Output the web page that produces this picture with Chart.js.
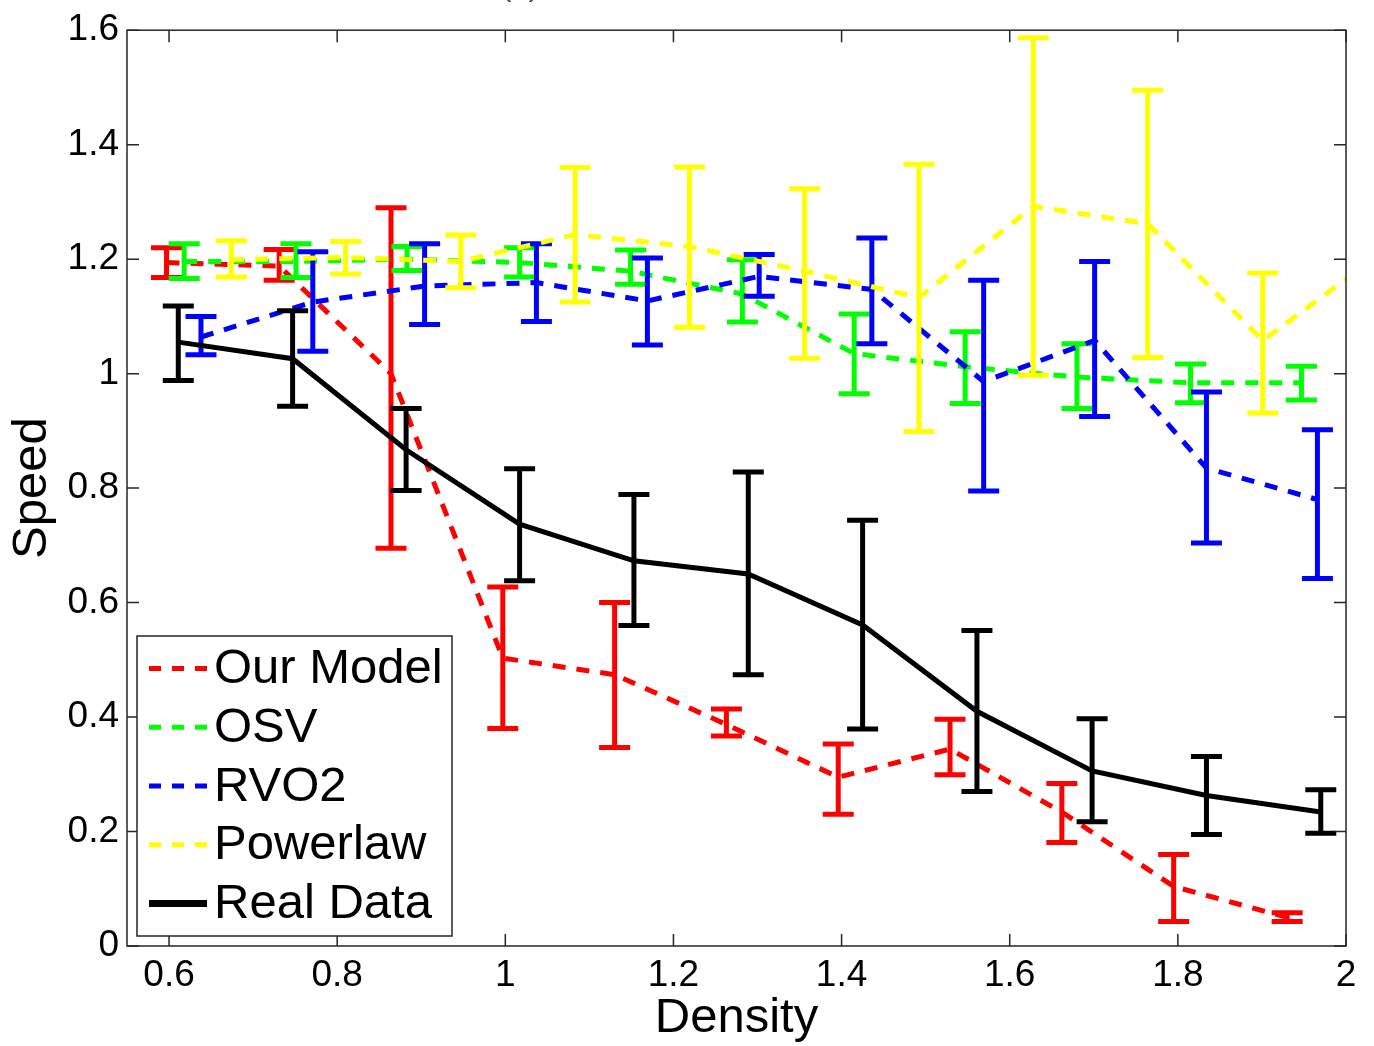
<!DOCTYPE html>
<html>
<head>
<meta charset="utf-8">
<script src="https://cdn.jsdelivr.net/npm/chart.js@4/dist/chart.umd.min.js"></script>
<style>
html,body{margin:0;padding:0;background:#fff;overflow:hidden}
canvas{display:block}
</style>
</head>
<body>
<canvas id="c" width="1374" height="1046"></canvas>
<script>
// ---------- data ----------
const seriesLabels = ['Our Model', 'OSV', 'RVO2', 'Powerlaw', 'Real Data'];
const xTicks = [0.6, 0.8, 1.0, 1.2, 1.4, 1.6, 1.8, 2.0];
const yTicks = [0, 0.2, 0.4, 0.6, 0.8, 1.0, 1.2, 1.4, 1.6];
const panelTitle = '(c)';
const xAxisTitle = 'Density';
const yAxisTitle = 'Speed';

const xOurModel  = [0.597, 0.731, 0.864, 0.997, 1.130, 1.263, 1.396, 1.529, 1.662, 1.795, 1.930];
const yOurModel  = [1.194, 1.188, 1.000, 0.503, 0.474, 0.387, 0.295, 0.344, 0.234, 0.104, 0.050];
const loOurModel = [1.168, 1.163, 0.695, 0.380, 0.347, 0.367, 0.230, 0.299, 0.181, 0.043, 0.043];
const hiOurModel = [1.220, 1.217, 1.290, 0.627, 0.600, 0.414, 0.353, 0.396, 0.284, 0.160, 0.058];

const xOSV  = [0.618, 0.751, 0.883, 1.017, 1.149, 1.282, 1.415, 1.547, 1.680, 1.815, 1.947];
const yOSV  = [1.196, 1.196, 1.200, 1.194, 1.179, 1.139, 1.035, 1.012, 0.994, 0.984, 0.984];
const loOSV = [1.166, 1.168, 1.180, 1.169, 1.156, 1.090, 0.965, 0.948, 0.939, 0.949, 0.954];
const hiOSV = [1.227, 1.227, 1.222, 1.220, 1.216, 1.199, 1.104, 1.073, 1.052, 1.017, 1.013];

const xRVO2  = [0.638, 0.771, 0.904, 1.037, 1.169, 1.302, 1.436, 1.569, 1.701, 1.834, 1.966];
const yRVO2  = [1.064, 1.125, 1.153, 1.159, 1.127, 1.170, 1.147, 0.986, 1.058, 0.835, 0.780];
const loRVO2 = [1.033, 1.039, 1.086, 1.091, 1.050, 1.135, 1.052, 0.795, 0.925, 0.704, 0.642];
const hiRVO2 = [1.100, 1.213, 1.227, 1.227, 1.202, 1.208, 1.237, 1.163, 1.196, 0.968, 0.902];

const xPowerlaw  = [0.674, 0.810, 0.947, 1.083, 1.219, 1.356, 1.492, 1.628, 1.764, 1.901, 2.037];
const yPowerlaw  = [1.199, 1.203, 1.196, 1.243, 1.222, 1.179, 1.133, 1.292, 1.262, 1.058, 1.205];
const loPowerlaw = [1.169, 1.174, 1.150, 1.125, 1.081, 1.027, 0.899, 0.997, 1.028, 0.931, null];
const hiPowerlaw = [1.232, 1.231, 1.242, 1.360, 1.361, 1.323, 1.366, 1.587, 1.495, 1.176, null];

const xReal  = [0.611, 0.747, 0.882, 1.017, 1.153, 1.289, 1.425, 1.561, 1.698, 1.834, 1.970];
const yReal  = [1.055, 1.026, 0.867, 0.737, 0.673, 0.650, 0.561, 0.410, 0.306, 0.263, 0.234];
const loReal = [0.988, 0.943, 0.796, 0.638, 0.560, 0.474, 0.379, 0.270, 0.217, 0.195, 0.197];
const hiReal = [1.118, 1.110, 0.939, 0.834, 0.789, 0.828, 0.744, 0.551, 0.397, 0.331, 0.273];

// ---------- styles ----------
const FONT = '"Liberation Sans", Arial, Helvetica, sans-serif';
const DASH = [13, 11];
const AXIS_COLOR = '#262626';

const toPts = (xs, ys) => xs.map((x, i) => ({x: x, y: ys[i]}));

function makeSeries(label, xs, ys, lo, hi, color, dashed, order) {
  return {
    label: label,
    data: toPts(xs, ys),
    errLow: lo,
    errHigh: hi,
    borderColor: color,
    backgroundColor: color,
    borderWidth: 5,
    borderDash: dashed ? DASH : [],
    borderCapStyle: 'butt',
    pointRadius: 0,
    pointHoverRadius: 0,
    tension: 0,
    fill: false,
    order: order
  };
}

const datasets = [
  makeSeries(seriesLabels[0], xOurModel, yOurModel, loOurModel, hiOurModel, '#ff0000', true, 5),
  makeSeries(seriesLabels[1], xOSV, yOSV, loOSV, hiOSV, '#00ff00', true, 4),
  makeSeries(seriesLabels[2], xRVO2, yRVO2, loRVO2, hiRVO2, '#0000ff', true, 3),
  makeSeries(seriesLabels[3], xPowerlaw, yPowerlaw, loPowerlaw, hiPowerlaw, '#ffff00', true, 2),
  makeSeries(seriesLabels[4], xReal, yReal, loReal, hiReal, '#000000', false, 1)
];

// ---------- plugins ----------
const errorBarPlugin = {
  id: 'errorBars',
  afterDatasetDraw(chart, args) {
    const ds = chart.data.datasets[args.index];
    if (!ds.errLow) return;
    const ctx = chart.ctx, a = chart.chartArea, xs = chart.scales.x, ys = chart.scales.y;
    ctx.save();
    ctx.beginPath();
    ctx.rect(a.left, a.top, a.right - a.left, a.bottom - a.top);
    ctx.clip();
    ctx.strokeStyle = ds.borderColor;
    ctx.lineCap = 'butt';
    ctx.setLineDash([]);
    ctx.lineWidth = 5;
    const half = 15.5;
    ds.data.forEach((p, i) => {
      const lo = ds.errLow[i], hi = ds.errHigh[i];
      if (lo == null || hi == null) return;
      const px = xs.getPixelForValue(p.x);
      const pl = ys.getPixelForValue(lo);
      const ph = ys.getPixelForValue(hi);
      ctx.beginPath();
      ctx.moveTo(px, pl); ctx.lineTo(px, ph);
      ctx.moveTo(px - half, pl); ctx.lineTo(px + half, pl);
      ctx.moveTo(px - half, ph); ctx.lineTo(px + half, ph);
      ctx.stroke();
    });
    ctx.restore();
  }
};

const framePlugin = {
  id: 'frame',
  afterDatasetsDraw(chart) {
    const ctx = chart.ctx, a = chart.chartArea, xs = chart.scales.x, ys = chart.scales.y;
    const tl = 12;
    ctx.save();
    ctx.strokeStyle = AXIS_COLOR;
    ctx.lineWidth = 1.5;
    ctx.setLineDash([]);
    ctx.strokeRect(a.left, a.top, a.right - a.left, a.bottom - a.top);
    ctx.beginPath();
    xTicks.forEach(v => {
      const px = xs.getPixelForValue(v);
      ctx.moveTo(px, a.bottom); ctx.lineTo(px, a.bottom - tl);
      ctx.moveTo(px, a.top); ctx.lineTo(px, a.top + tl);
    });
    yTicks.forEach(v => {
      const py = ys.getPixelForValue(v);
      ctx.moveTo(a.left, py); ctx.lineTo(a.left + tl, py);
      ctx.moveTo(a.right, py); ctx.lineTo(a.right - tl, py);
    });
    ctx.stroke();
    ctx.restore();
  }
};

const boxLegendPlugin = {
  id: 'boxLegend',
  afterDraw(chart) {
    const ctx = chart.ctx;
    const L = 137, T = 636, W = 315, H = 300;
    ctx.save();
    ctx.fillStyle = '#ffffff';
    ctx.fillRect(L, T, W, H);
    ctx.strokeStyle = AXIS_COLOR;
    ctx.lineWidth = 1.5;
    ctx.setLineDash([]);
    ctx.strokeRect(L, T, W, H);
    ctx.font = '49px ' + FONT;
    ctx.textBaseline = 'middle';
    ctx.textAlign = 'left';
    chart.data.datasets.forEach((ds, i) => {
      const cy = T + 32.5 + i * 58.75;
      ctx.strokeStyle = ds.borderColor;
      ctx.lineWidth = ds.borderDash.length ? 5 : 7;
      ctx.lineCap = 'butt';
      ctx.setLineDash(ds.borderDash.length ? [12, 11] : []);
      ctx.beginPath();
      ctx.moveTo(L + 12, cy); ctx.lineTo(L + 70, cy);
      ctx.stroke();
      ctx.setLineDash([]);
      ctx.fillStyle = '#000000';
      ctx.fillText(ds.label, L + 77, cy + 1);
    });
    ctx.restore();
  }
};

const panelTitlePlugin = {
  id: 'panelTitle',
  afterDraw(chart) {
    const ctx = chart.ctx;
    ctx.save();
    ctx.fillStyle = '#555555';
    ctx.font = '34px ' + FONT;
    ctx.textAlign = 'center';
    ctx.textBaseline = 'alphabetic';
    ctx.fillText(panelTitle, 520, -5);
    ctx.restore();
  }
};

const fmt = v => String(Number(Number(v).toFixed(1)));

new Chart(document.getElementById('c'), {
  type: 'line',
  data: { datasets: datasets },
  options: {
    responsive: false,
    animation: false,
    events: [],
    layout: { padding: { top: 24, right: 28, left: 0, bottom: 0 } },
    plugins: {
      legend: { display: false },
      tooltip: { enabled: false },
      title: { display: false }
    },
    scales: {
      x: {
        type: 'linear',
        min: 0.55,
        max: 2,
        afterBuildTicks: s => { s.ticks = xTicks.map(v => ({value: v})); },
        afterFit: s => { s.height = 100; },
        grid: { display: false, drawTicks: false },
        border: { display: false },
        ticks: {
          autoSkip: false, maxRotation: 0, padding: 8,
          color: '#000', font: { family: FONT, size: 37 },
          callback: v => fmt(v)
        },
        title: {
          display: true, text: xAxisTitle, color: '#000',
          font: { family: FONT, size: 49, lineHeight: 1 },
          padding: { top: 0, bottom: 3 }
        }
      },
      y: {
        type: 'linear',
        min: 0,
        max: 1.6,
        afterBuildTicks: s => { s.ticks = yTicks.map(v => ({value: v})); },
        afterFit: s => { s.width = 127; },
        grid: { display: false, drawTicks: false },
        border: { display: false },
        ticks: {
          autoSkip: false, padding: 8,
          color: '#000', font: { family: FONT, size: 37 },
          callback: v => fmt(v)
        },
        title: {
          display: true, text: yAxisTitle, color: '#000',
          font: { family: FONT, size: 49, lineHeight: 1 },
          padding: { top: 8, bottom: 0 }
        }
      }
    }
  },
  plugins: [errorBarPlugin, framePlugin, boxLegendPlugin, panelTitlePlugin]
});
</script>
</body>
</html>
